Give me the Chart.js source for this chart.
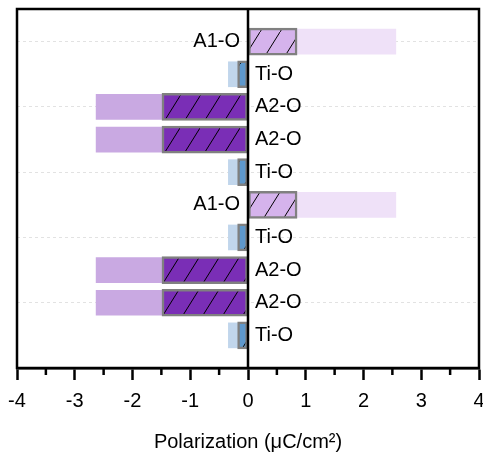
<!DOCTYPE html>
<html>
<head>
<meta charset="utf-8">
<script src="https://cdn.jsdelivr.net/npm/chart.js@4/dist/chart.umd.min.js"></script>
<style>
  body { margin: 0; background: #fff; }
</style>
</head>
<body>
<canvas id="chart" width="483" height="454"></canvas>
<script>
// rows from top to bottom
const categories = ['A1-O', 'Ti-O', 'A2-O', 'A2-O', 'Ti-O', 'A1-O', 'Ti-O', 'A2-O', 'A2-O', 'Ti-O'];
const rowPositions = [10, 9, 8, 7, 6, 5, 4, 3, 2, 1];
const totalValues = [2.56, -0.34, -2.63, -2.63, -0.34, 2.56, -0.34, -2.63, -2.63, -0.34];
const hatchedValues = [0.85, -0.18, -1.49, -1.49, -0.18, 0.85, -0.18, -1.49, -1.49, -0.18];
const minorTicks = [-3.5, -2.5, -1.5, -0.5, 0.5, 1.5, 2.5, 3.5];

const lightColors = { 'A1-O': '#efe1f8', 'A2-O': '#c9a9e2', 'Ti-O': '#c1d6ec' };
const fillColors = { 'A1-O': '#d5b3ec', 'A2-O': '#7a2eb6', 'Ti-O': '#5e98cc' };
const FONT = 'Arial, "Liberation Sans", sans-serif';

function hatch(color) {
  const c = document.createElement('canvas');
  c.width = 20;
  c.height = 32;
  const g = c.getContext('2d');
  g.fillStyle = color;
  g.fillRect(0, 0, 20, 32);
  g.strokeStyle = '#000';
  g.lineWidth = 1;
  g.beginPath();
  g.moveTo(0, 32);
  g.lineTo(20, 0);
  g.stroke();
  return g.createPattern(c, 'repeat');
}

const patterns = {};
Object.keys(fillColors).forEach(k => { patterns[k] = hatch(fillColors[k]); });

const decorations = {
  id: 'decorations',
  afterDatasetsDraw(chart) {
    const { ctx, chartArea, scales } = chart;
    const xs = scales.x, ys = scales.y;
    const x0 = xs.getPixelForValue(0);
    ctx.save();
    ctx.strokeStyle = '#000';
    ctx.lineWidth = 2.5;
    // zero line
    ctx.beginPath();
    ctx.moveTo(x0, chartArea.top);
    ctx.lineTo(x0, chartArea.bottom);
    ctx.stroke();
    // frame
    ctx.strokeRect(chartArea.left, chartArea.top, chartArea.right - chartArea.left, chartArea.bottom - chartArea.top);
    // minor ticks
    minorTicks.forEach(v => {
      const px = xs.getPixelForValue(v);
      ctx.beginPath();
      ctx.moveTo(px, chartArea.bottom);
      ctx.lineTo(px, chartArea.bottom + 7);
      ctx.stroke();
    });
    // row labels
    ctx.fillStyle = '#000';
    ctx.font = '20px ' + FONT;
    ctx.textBaseline = 'middle';
    categories.forEach((name, i) => {
      const py = ys.getPixelForValue(rowPositions[i]);
      if (hatchedValues[i] > 0) {
        ctx.textAlign = 'right';
        ctx.fillText(name, x0 - 8, py);
      } else {
        ctx.textAlign = 'left';
        ctx.fillText(name, x0 + 7, py);
      }
    });
    ctx.restore();
  }
};

new Chart(document.getElementById('chart').getContext('2d'), {
  type: 'bar',
  data: {
    datasets: [
      {
        label: 'hatched',
        data: hatchedValues.map((v, i) => ({ x: v, y: rowPositions[i] })),
        backgroundColor: categories.map(c => patterns[c]),
        borderColor: '#808080',
        borderWidth: 2.5,
        borderSkipped: false,
        barThickness: 27,
        grouped: false
      },
      {
        label: 'total',
        data: totalValues.map((v, i) => ({ x: v, y: rowPositions[i] })),
        backgroundColor: categories.map(c => lightColors[c]),
        borderWidth: 0,
        barThickness: 25,
        grouped: false
      }
    ]
  },
  options: {
    indexAxis: 'y',
    responsive: false,
    devicePixelRatio: 1,
    animation: false,
    layout: { padding: { left: 17, right: 4, top: 9, bottom: 0 } },
    plugins: { legend: { display: false }, tooltip: { enabled: false } },
    scales: {
      x: {
        type: 'linear',
        min: -4,
        max: 4,
        ticks: { stepSize: 1, color: '#000', padding: 9, font: { family: FONT, size: 20 } },
        grid: { drawOnChartArea: false, drawTicks: true, tickLength: 12, tickColor: '#000', tickWidth: 2.5 },
        border: { display: true, color: '#000', width: 2.5 },
        title: {
          display: true,
          text: 'Polarization (\u03bcC/cm\u00b2)',
          color: '#000',
          padding: 0,
          font: { family: FONT, size: 20 }
        },
        afterFit(scale) {
          scale.height = 86;
          scale.paddingLeft = 0;
          scale.paddingRight = 0;
        }
      },
      y: {
        type: 'linear',
        min: 0,
        max: 11,
        offset: false,
        ticks: { display: false },
        afterBuildTicks(scale) {
          scale.ticks = [2, 4, 6, 8, 10].map(v => ({ value: v }));
        },
        grid: { color: '#e2e2e2', lineWidth: 1, drawTicks: false, offset: false },
        border: { display: false, dash: [3, 3] },
        afterFit(scale) {
          scale.width = 0;
        }
      }
    }
  },
  plugins: [decorations]
});
</script>
</body>
</html>
